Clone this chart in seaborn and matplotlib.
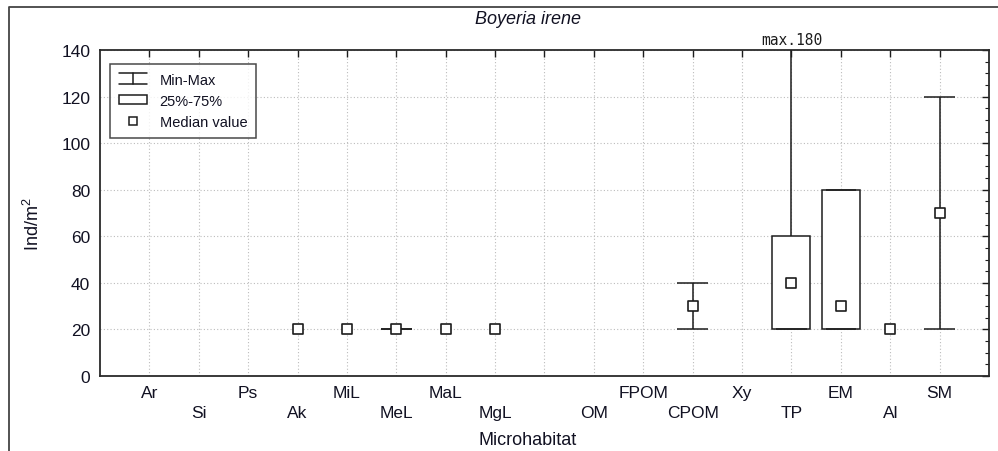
import numpy as np
import pandas as pd
import matplotlib
matplotlib.use("Agg")
import matplotlib.pyplot as plt
from matplotlib.legend_handler import HandlerBase
from matplotlib.lines import Line2D
from matplotlib.patches import Rectangle, Patch
from matplotlib.ticker import MultipleLocator
import matplotlib.transforms as mtransforms
import seaborn as sns

nan = np.nan

# Microhabitat categories along the x axis (one slot is unlabeled)
categories = ["Ar", "Si", "Ps", "Ak", "MiL", "MeL", "MaL", "MgL", "",
              "OM", "FPOM", "CPOM", "Xy", "TP", "EM", "Al", "SM"]

# Density summaries (Ind/m2); NaN where nothing is drawn
median_vals = [nan, nan, nan, 20, 20, 20, 20, 20, nan, nan, nan, 30, nan, 40, 30, 20, 70]
min_vals    = [nan, nan, nan, nan, nan, 20, nan, nan, nan, nan, nan, 20, nan, 20, 20, nan, 20]
max_vals    = [nan, nan, nan, nan, nan, 20, nan, nan, nan, nan, nan, 40, nan, 180, 80, nan, 120]
q25_vals    = [nan, nan, nan, nan, nan, nan, nan, nan, nan, nan, nan, nan, nan, 20, 20, nan, nan]
q75_vals    = [nan, nan, nan, nan, nan, nan, nan, nan, nan, nan, nan, nan, nan, 60, 80, nan, nan]

y_ticks = [0, 20, 40, 60, 80, 100, 120, 140]

sns.set_theme(style="white")
plt.rcParams["font.family"] = ["Liberation Sans", "DejaVu Sans"]
plt.rcParams["mathtext.fontset"] = "custom"
plt.rcParams["mathtext.rm"] = "Liberation Sans"

INK = "#1c1c1c"
TXT = "#111122"
LW = 1.1

df = pd.DataFrame({
    "pos": np.arange(len(categories)),
    "category": categories,
    "median": median_vals,
    "min": min_vals,
    "max": max_vals,
    "q25": q25_vals,
    "q75": q75_vals,
})

fig = plt.figure(figsize=(9.98, 4.52), dpi=100)
ax = fig.add_axes([100 / 998, 75 / 452, 889 / 998, 326 / 452])

box_w = 0.77
cap_w = 0.62
for _, r in df.iterrows():
    p = r["pos"]
    has_box = not np.isnan(r["q25"])
    if has_box:
        ax.add_patch(Rectangle((p - box_w / 2, r["q25"]), box_w, r["q75"] - r["q25"],
                               facecolor="white", edgecolor=INK, linewidth=LW, zorder=3))
    if not np.isnan(r["min"]):
        if has_box:
            ax.vlines(p, r["min"], r["q25"], color=INK, linewidth=LW, zorder=3)
            ax.vlines(p, r["q75"], r["max"], color=INK, linewidth=LW, zorder=3)
        else:
            ax.vlines(p, r["min"], r["max"], color=INK, linewidth=LW, zorder=3)
        ax.hlines([r["min"], r["max"]], p - cap_w / 2, p + cap_w / 2,
                  color=INK, linewidth=LW, zorder=3)

sns.scatterplot(data=df.dropna(subset=["median"]), x="pos", y="median", marker="s",
                s=50, color="white", edgecolor=INK, linewidth=1.2, zorder=5,
                legend=False, ax=ax)

ax.set_xlim(-1, len(categories))
ax.set_ylim(0, 140)
ax.set_xticks(df["pos"])
ax.set_xticklabels([c if i % 2 == 0 else "\n" + c for i, c in enumerate(categories)])
for t in ax.get_xticklabels():
    t.set_linespacing(1.38)
ax.set_yticks(y_ticks)
ax.yaxis.set_minor_locator(MultipleLocator(5))
ax.tick_params(which="both", direction="in", top=True, right=True,
               labelsize=12.5, colors=INK, labelcolor=TXT)
ax.tick_params(which="major", length=5, width=1.0)
ax.tick_params(which="minor", length=3, width=0.8)
ax.tick_params(axis="x", pad=6.5)
ax.tick_params(axis="y", pad=7)
for s in ax.spines.values():
    s.set_color("#2a2a2a")
    s.set_linewidth(1.3)

ax.grid(True, which="major", color="#bcbcbc", linestyle=(0, (1, 2)), linewidth=0.8)
ax.set_axisbelow(True)

ax.set_xlabel("Microhabitat", fontsize=13, color=TXT)
ax.xaxis.set_label_coords((528 - 100) / 889, -0.17)
ax.set_ylabel("Ind/m$^2$", fontsize=13, color=TXT)
ax.yaxis.set_label_coords(-0.064, 0.47)

fig.text(528 / 998, 1 - 20 / 452, "Boyeria irene", style="italic", fontsize=13,
         ha="center", va="center", color=TXT)

trans = mtransforms.blended_transform_factory(ax.transData, ax.transAxes)
ax.text(categories.index("TP"), 1.008, "max.180", transform=trans, ha="center",
        va="bottom", fontsize=10.5, family="DejaVu Sans Mono", color=INK)


class MinMaxHandler(HandlerBase):
    def create_artists(self, legend, orig_handle, xdescent, ydescent, width, height,
                       fontsize, trans):
        cx = width / 2 - xdescent
        y0 = -ydescent - 0.1 * height
        y1 = height - ydescent + 0.1 * height
        kw = dict(color=INK, linewidth=LW, transform=trans)
        return [Line2D([cx, cx], [y0, y1], **kw),
                Line2D([-xdescent, width - xdescent], [y0, y0], **kw),
                Line2D([-xdescent, width - xdescent], [y1, y1], **kw)]


class MinMaxKey:
    pass


handles = [MinMaxKey(),
           Patch(facecolor="white", edgecolor=INK, linewidth=LW),
           Line2D([], [], linestyle="none", marker="s", markersize=6,
                  markerfacecolor="white", markeredgecolor=INK, markeredgewidth=1.1)]
labels = ["Min-Max", "25%-75%", "Median value"]
leg = ax.legend(handles, labels, handler_map={MinMaxKey: MinMaxHandler()},
                loc="upper left", bbox_to_anchor=(10 / 889, 1 - 14 / 326),
                borderaxespad=0, fontsize=10.5, handlelength=1.95, handleheight=0.65,
                handletextpad=0.85, labelspacing=0.48, borderpad=0.6,
                fancybox=False, shadow=False, frameon=True)
leg.get_frame().set_edgecolor(INK)
leg.get_frame().set_linewidth(1.1)
for t in leg.get_texts():
    t.set_color(TXT)

# outer frame of the figure panel
fig.add_artist(Line2D([9 / 998, 9 / 998, 1.0], [0.0, 1 - 8 / 452, 1 - 8 / 452],
                      transform=fig.transFigure, color="#444444", linewidth=1.3))

fig.savefig("out.png", dpi=100, facecolor="white")
